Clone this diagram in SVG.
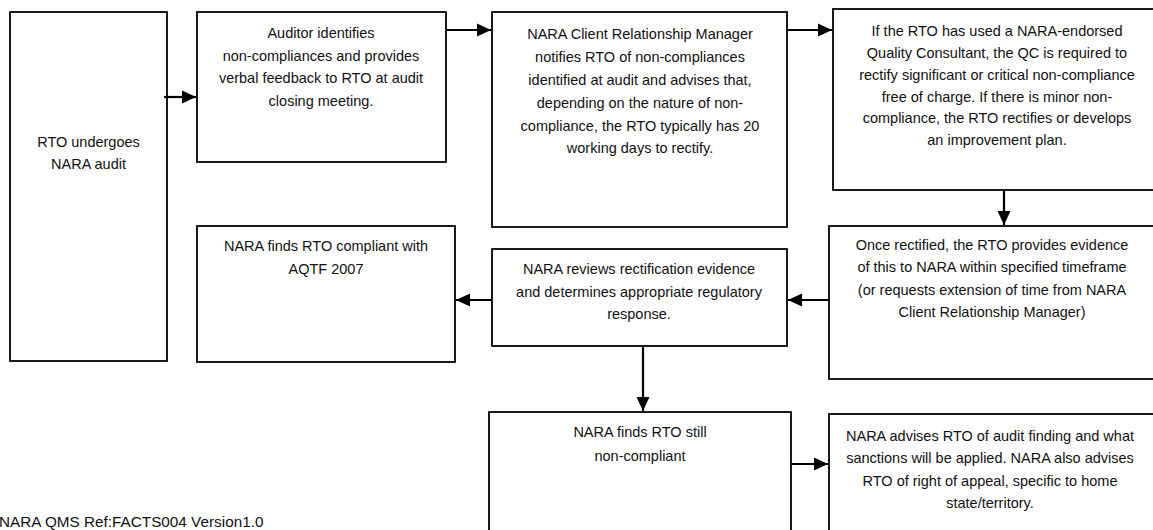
<svg xmlns="http://www.w3.org/2000/svg" width="1153" height="530" viewBox="0 0 1153 530">
<style>
.box{fill:#fff;stroke:#000;stroke-width:1.8}
.t{font-family:"Liberation Sans",Arial,sans-serif;font-size:14.5px;fill:#111;text-anchor:middle}
.c{stroke:#000;stroke-width:2.2;fill:none;marker-end:url(#ah)}
.foot{font-family:"Liberation Sans",Arial,sans-serif;font-size:15.3px;fill:#111}
</style>
<defs>
<marker id="ah" markerUnits="userSpaceOnUse" markerWidth="15" markerHeight="14" refX="14" refY="7" orient="auto">
<path d="M0,0.5 L14,7 L0,13.5 z" fill="#000"/>
</marker>
</defs>
<rect width="1153" height="530" fill="#fff"/>
<g id="n1"><rect class="box" x="10" y="12" width="157" height="349"/>
<text class="t" x="88.5" y="147">RTO undergoes</text><text class="t" x="88.5" y="169">NARA audit</text></g>
<g id="n2"><rect class="box" x="197" y="12" width="249" height="150"/>
<text class="t" x="321"><tspan x="321" y="38">Auditor identifies</tspan><tspan x="321" y="60.5">non-compliances and provides</tspan><tspan x="321" y="83">verbal feedback to RTO at audit</tspan><tspan x="321" y="105.5">closing meeting.</tspan></text></g>
<g id="n3"><rect class="box" x="492" y="12" width="295" height="215"/>
<text class="t" x="640"><tspan x="640" y="38.5">NARA Client Relationship Manager</tspan><tspan x="640" y="61.5">notifies RTO of non-compliances</tspan><tspan x="640" y="84.5">identified at audit and advises that,</tspan><tspan x="640" y="107.5">depending on the nature of non-</tspan><tspan x="640" y="130.5">compliance, the RTO typically has 20</tspan><tspan x="640" y="153">working days to rectify.</tspan></text></g>
<g id="n4"><rect class="box" x="833" y="9" width="330" height="181"/>
<text class="t" x="997"><tspan x="997" y="36">If the RTO has used a NARA-endorsed</tspan><tspan x="997" y="58">Quality Consultant, the QC is required to</tspan><tspan x="997" y="80">rectify significant or critical non-compliance</tspan><tspan x="997" y="101.5">free of charge. If there is minor non-</tspan><tspan x="997" y="123">compliance, the RTO rectifies or develops</tspan><tspan x="997" y="145">an improvement plan.</tspan></text></g>
<g id="n5"><rect class="box" x="829" y="226" width="330" height="153"/>
<text class="t" x="992"><tspan x="992" y="250">Once rectified, the RTO provides evidence</tspan><tspan x="992" y="272">of this to NARA within specified timeframe</tspan><tspan x="992" y="294.5">(or requests extension of time from NARA</tspan><tspan x="992" y="317">Client Relationship Manager)</tspan></text></g>
<g id="n6"><rect class="box" x="492" y="249" width="295" height="97"/>
<text class="t" x="639"><tspan x="639" y="274">NARA reviews rectification evidence</tspan><tspan x="639" y="297">and determines appropriate regulatory</tspan><tspan x="639" y="319">response.</tspan></text></g>
<g id="n7"><rect class="box" x="197" y="226" width="258" height="136"/>
<text class="t" x="326"><tspan x="326" y="251">NARA finds RTO compliant with</tspan><tspan x="326" y="274">AQTF 2007</tspan></text></g>
<g id="n8"><rect class="box" x="489" y="412" width="302" height="140"/>
<text class="t" x="640"><tspan x="640" y="437">NARA finds RTO still</tspan><tspan x="640" y="461">non-compliant</tspan></text></g>
<g id="n9"><rect class="box" x="829" y="414" width="330" height="140"/>
<text class="t" x="990"><tspan x="990" y="441">NARA advises RTO of audit finding and what</tspan><tspan x="990" y="463">sanctions will be applied. NARA also advises</tspan><tspan x="990" y="485.5">RTO of right of appeal, specific to home</tspan><tspan x="990" y="508">state/territory.</tspan></text></g>
<g id="connectors">
<line class="c" x1="164" y1="97" x2="196" y2="97"/>
<line class="c" x1="446" y1="30" x2="491" y2="30"/>
<line class="c" x1="787" y1="30" x2="832" y2="30"/>
<line class="c" x1="1004" y1="190" x2="1004" y2="225"/>
<line class="c" x1="829" y1="300" x2="788" y2="300"/>
<line class="c" x1="492" y1="300" x2="456" y2="300"/>
<line class="c" x1="643" y1="346" x2="643" y2="411"/>
<line class="c" x1="791" y1="464" x2="828" y2="464"/>
</g>
<text class="foot" x="-1" y="527">NARA QMS Ref:FACTS004 Version1.0</text>
</svg>
